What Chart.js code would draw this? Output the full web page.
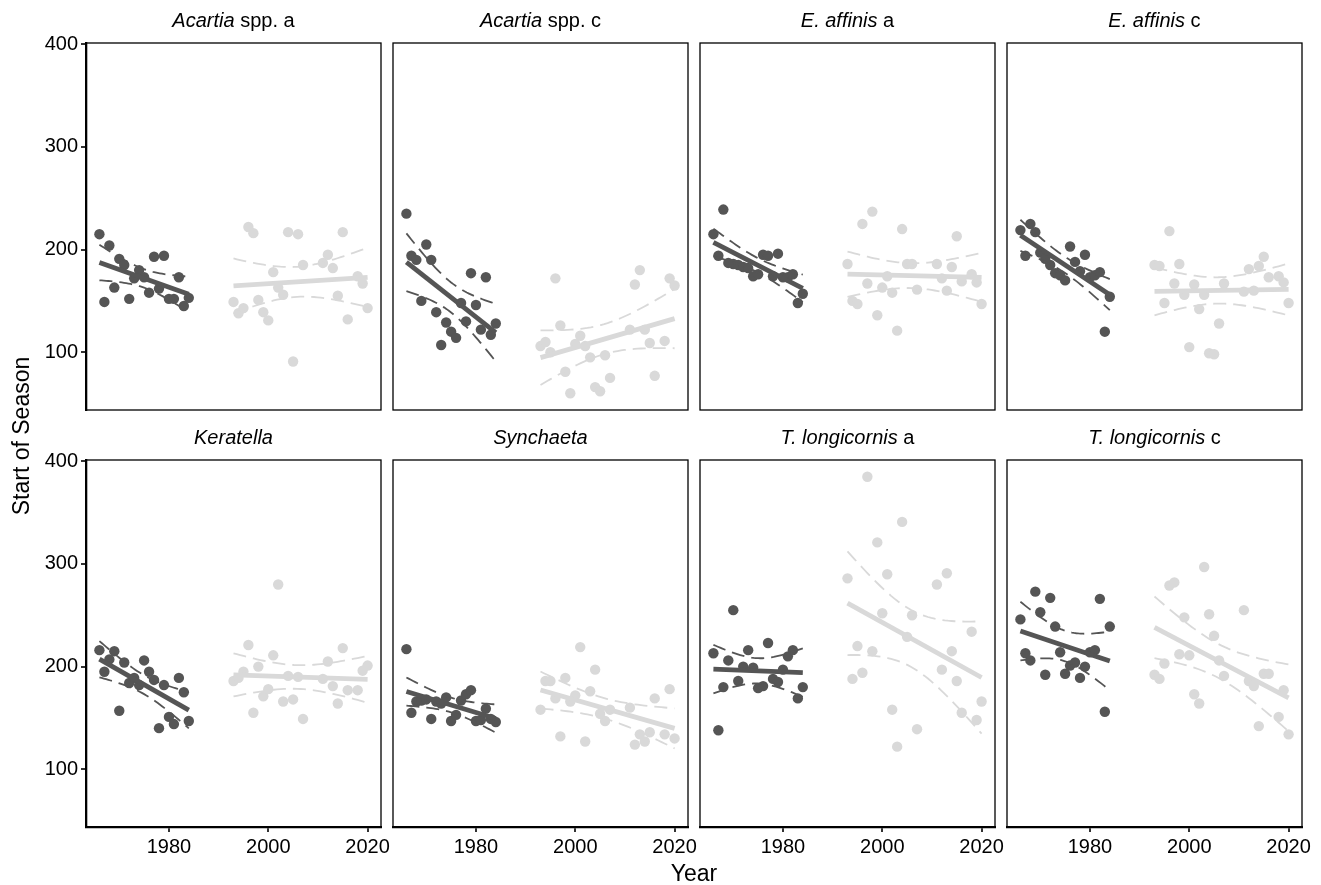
<!DOCTYPE html>
<html>
<head>
<meta charset="utf-8">
<script src="https://cdn.jsdelivr.net/npm/chart.js@4.4.0/dist/chart.umd.min.js"></script>
<style>
  body { margin: 0; background: #fff; width: 1321px; height: 885px; position: relative; overflow: hidden;
         font-family: "Liberation Sans", Arial, Helvetica, sans-serif; }
  canvas { position: absolute; }
  .strip { position: absolute; width: 295px; text-align: center; font-size: 20px; line-height: 24px; color: #000; }
  .axis-title { position: absolute; font-size: 23px; line-height: 26px; text-align: center; color: #000; }
</style>
</head>
<body>
<script>
// Years (dark = early period, light = late period)
const earlyYears = [1966,1967,1968,1969,1970,1971,1972,1973,1974,1975,1976,1977,1978,1979,1980,1981,1982,1983,1984];
const lateYears = [1993,1994,1995,1996,1997,1998,1999,2000,2001,2002,2003,2004,2005,2006,2007,
                   2011,2012,2013,2014,2015,2016,2018,2019,2020];

// Start of season values
const acartiaA_early = [215,149,204,163,191,185,152,172,180,173,158,193,162,194,152,152,173,145,153];
const acartiaA_late  = [149,138,143,222,216,151,139,131,178,163,156,217,91,215,185,187,195,182,155,217,132,174,167,143];
const acartiaC_early = [235,194,190,150,205,190,139,107,129,120,114,148,130,177,146,122,173,117,128];
const acartiaC_late  = [106,110,100,172,126,81,60,108,116,106,95,66,62,97,75,122,166,180,122,109,77,111,172,165];
const eaffinisA_early = [215,194,239,187,186,185,183,182,174,176,195,194,174,196,173,173,176,148,157];
const eaffinisA_late  = [186,150,147,225,167,237,136,163,174,158,121,220,186,186,161,186,172,160,183,213,169,176,168,147];
const eaffinisC_early = [219,194,225,217,197,191,185,177,175,170,203,188,179,195,173,175,178,120,154];
const eaffinisC_late  = [185,184,148,218,167,186,156,105,166,142,156,99,98,128,167,159,181,160,184,193,173,174,168,148];
const keratella_early = [216,195,207,215,157,204,184,189,182,206,195,187,140,182,151,144,189,175,147];
const keratella_late  = [186,189,195,221,155,200,171,178,211,280,166,191,168,190,149,188,205,181,164,218,177,177,196,201];
const synchaeta_early = [217,155,166,167,168,149,166,164,170,147,153,167,173,177,147,148,159,149,146];
const synchaeta_late  = [158,186,186,169,132,189,166,172,219,127,176,197,154,147,158,160,124,134,127,136,169,134,178,130];
const tlongA_early = [213,138,180,206,255,186,200,216,199,179,181,223,188,185,197,210,216,169,180];
const tlongA_late  = [286,188,220,194,385,215,321,252,290,158,122,341,229,250,139,280,197,291,215,186,155,234,148,166];
const tlongC_early = [246,213,206,273,253,192,267,239,214,193,201,204,189,200,214,216,266,156,239];
const tlongC_late  = [192,188,203,279,282,212,248,211,173,164,297,251,230,206,191,255,186,181,142,193,193,151,177,134];

// Panel titles (italic part, plain part)
const titleItalic = ['Acartia', 'Acartia', 'E. affinis', 'E. affinis', 'Keratella', 'Synchaeta', 'T. longicornis', 'T. longicornis'];
const titlePlain  = [' spp. a', ' spp. c', ' a', ' c', '', '', ' a', ' c'];
const earlySeries = [acartiaA_early, acartiaC_early, eaffinisA_early, eaffinisC_early, keratella_early, synchaeta_early, tlongA_early, tlongC_early];
const lateSeries  = [acartiaA_late, acartiaC_late, eaffinisA_late, eaffinisC_late, keratella_late, synchaeta_late, tlongA_late, tlongC_late];

const yTicks = [100, 200, 300, 400];
const xTicks = [1980, 2000, 2020];

// layout
const panelLefts = [86, 393, 700, 1007];
const panelTops = [43, 460];
const panelW = 295, panelH = 367;
const pad = 20;
const dark = '#555555', light = '#d9d9d9';
const fontFam = '"Liberation Sans", Arial, Helvetica, sans-serif';
const dash = [13, 7];

// t quantile (97.5%) approximation
function tQuant(df) {
  const z = 1.959964;
  const g1 = (Math.pow(z, 3) + z) / 4;
  const g2 = (5 * Math.pow(z, 5) + 16 * Math.pow(z, 3) + 3 * z) / 96;
  return z + g1 / df + g2 / (df * df);
}

// linear fit with 95% confidence band, like geom_smooth(method = "lm")
function linFit(xs, ys) {
  const pts = xs.map((x, k) => [x, ys[k]]).filter(d => d[1] != null);
  const n = pts.length;
  const mx = pts.reduce((s, d) => s + d[0], 0) / n;
  const my = pts.reduce((s, d) => s + d[1], 0) / n;
  let sxx = 0, sxy = 0;
  pts.forEach(d => { sxx += (d[0] - mx) ** 2; sxy += (d[0] - mx) * (d[1] - my); });
  const b = sxy / sxx, a = my - b * mx;
  let sse = 0;
  pts.forEach(d => { sse += (d[1] - a - b * d[0]) ** 2; });
  const s = Math.sqrt(sse / (n - 2));
  const t = tQuant(n - 2);
  const x0 = pts[0][0], x1 = pts[n - 1][0];
  const line = [{ x: x0, y: a + b * x0 }, { x: x1, y: a + b * x1 }];
  const upper = [], lower = [];
  for (let k = 0; k <= 40; k++) {
    const x = x0 + (x1 - x0) * k / 40;
    const se = s * Math.sqrt(1 / n + (x - mx) ** 2 / sxx);
    upper.push({ x, y: a + b * x + t * se });
    lower.push({ x, y: a + b * x - t * se });
  }
  return { line, upper, lower };
}

const boxPlugin = {
  id: 'box',
  beforeDatasetsDraw(chart) {
    const { ctx, chartArea: a } = chart;
    ctx.save();
    ctx.strokeStyle = '#000';
    ctx.lineWidth = 1.3;
    ctx.strokeRect(a.left, a.top, a.right - a.left, a.bottom - a.top);
    ctx.restore();
  }
};

function lineSet(data, color, width, dashPattern) {
  return { data, showLine: true, borderColor: color, borderWidth: width, borderDash: dashPattern || [],
           pointRadius: 0, fill: false, tension: 0 };
}
function pointSet(years, vals, color) {
  const data = years.map((x, k) => ({ x, y: vals[k] })).filter(d => d.y != null);
  return { data, backgroundColor: color, borderWidth: 0, pointRadius: 5.2, showLine: false };
}

earlySeries.forEach((early, i) => {
  const col = i % 4, row = Math.floor(i / 4);
  const showY = col === 0, showX = row === 1;
  const yW = showY ? 60 : 0, xH = showX ? 45 : 0;

  const canvas = document.createElement('canvas');
  canvas.width = panelW + pad * 2 + yW;
  canvas.height = panelH + pad * 2 + xH;
  canvas.style.left = (panelLefts[col] - pad - yW) + 'px';
  canvas.style.top = (panelTops[row] - pad) + 'px';
  document.body.appendChild(canvas);

  const strip = document.createElement('div');
  strip.className = 'strip';
  strip.style.left = panelLefts[col] + 'px';
  strip.style.top = (panelTops[row] - 35) + 'px';
  strip.innerHTML = '<i>' + titleItalic[i] + '</i>' + titlePlain[i];
  document.body.appendChild(strip);

  const late = lateSeries[i];
  const fe = linFit(earlyYears, early);
  const fl = linFit(lateYears, late);

  new Chart(canvas, {
    type: 'scatter',
    data: {
      datasets: [
        lineSet(fe.line, dark, 4.8),
        lineSet(fl.line, light, 4.8),
        lineSet(fe.upper, dark, 1.8, dash),
        lineSet(fe.lower, dark, 1.8, dash),
        lineSet(fl.upper, light, 1.8, dash),
        lineSet(fl.lower, light, 1.8, dash),
        pointSet(earlyYears, early, dark),
        pointSet(lateYears, late, light)
      ]
    },
    options: {
      responsive: false,
      animation: false,
      events: [],
      layout: { padding: pad },
      plugins: { legend: { display: false }, tooltip: { enabled: false } },
      scales: {
        x: {
          type: 'linear', min: 1963.3, max: 2022.7, display: showX,
          afterFit: s => { s.height = xH; },
          afterBuildTicks: s => { s.ticks = xTicks.map(v => ({ value: v })); },
          ticks: { autoSkip: false, maxRotation: 0, padding: 3, color: '#000',
                   font: { size: 20, family: fontFam }, callback: v => String(v) },
          grid: { drawOnChartArea: false, drawTicks: true, tickLength: 5, lineWidth: 2, color: '#333' },
          border: { display: true, width: 2.3, color: '#000' }
        },
        y: {
          type: 'linear', min: 43.7, max: 401.3, display: showY,
          afterFit: s => { s.width = yW; },
          afterBuildTicks: s => { s.ticks = yTicks.map(v => ({ value: v })); },
          ticks: { autoSkip: false, padding: 3, color: '#000',
                   font: { size: 20, family: fontFam }, callback: v => String(v) },
          grid: { drawOnChartArea: false, drawTicks: true, tickLength: 5, lineWidth: 2, color: '#333' },
          border: { display: true, width: 2.3, color: '#000' }
        }
      }
    },
    plugins: [boxPlugin]
  });
});

// axis titles
const yTitle = document.createElement('div');
yTitle.className = 'axis-title';
yTitle.textContent = 'Start of Season';
yTitle.style.width = '300px';
yTitle.style.left = (21 - 150) + 'px';
yTitle.style.top = (436 - 13) + 'px';
yTitle.style.transform = 'rotate(-90deg)';
document.body.appendChild(yTitle);

const xTitle = document.createElement('div');
xTitle.className = 'axis-title';
xTitle.textContent = 'Year';
xTitle.style.width = '200px';
xTitle.style.left = (694 - 100) + 'px';
xTitle.style.top = (873 - 13) + 'px';
document.body.appendChild(xTitle);
</script>
</body>
</html>
